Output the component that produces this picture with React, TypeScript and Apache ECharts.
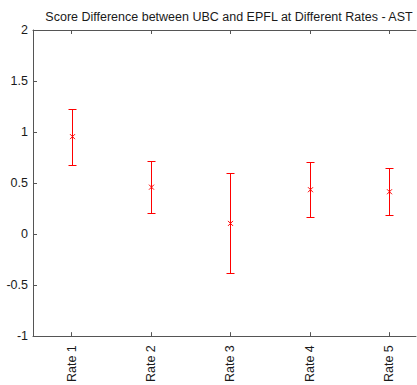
import React, { useEffect, useRef } from 'react';
import * as echarts from 'echarts';

const categories = ['Rate 1', 'Rate 2', 'Rate 3', 'Rate 4', 'Rate 5'];
const positions = [1, 2, 3, 4, 5];
const means = [0.955, 0.46, 0.105, 0.435, 0.415];
const upper = [1.225, 0.72, 0.6, 0.705, 0.65];
const lower = [0.675, 0.205, -0.385, 0.165, 0.185];

const titleText = 'Score Difference between UBC and EPFL at Different Rates - AST';
const FONT = '"Liberation Sans", Arial, Helvetica, sans-serif';
const AXIS_COLOR = '#555555';
const TEXT_COLOR = '#1a1a1a';

export default function App() {
  const ref = useRef<HTMLDivElement>(null);

  useEffect(() => {
    if (!ref.current) return;
    const chart = echarts.init(ref.current, undefined, { renderer: 'svg' });
    const data = positions.map((p, i) => [p, means[i], lower[i], upper[i]]);
    const xMin = 0.513;
    const xMax = 5.336;
    chart.setOption({
      animation: false,
      backgroundColor: '#ffffff',
      textStyle: { fontFamily: FONT },
      graphic: [
        {
          type: 'text',
          x: 229,
          y: 17,
          style: {
            text: titleText,
            fontFamily: FONT,
            fontSize: 12.5,
            fill: TEXT_COLOR,
            textAlign: 'center',
            textVerticalAlign: 'middle',
          },
        },
      ],
      grid: { left: 33, right: 1, top: 30, bottom: 48, containLabel: false },
      xAxis: [
        {
          type: 'value',
          min: xMin,
          max: xMax,
          position: 'bottom',
          axisLine: { show: true, onZero: false, lineStyle: { color: AXIS_COLOR, width: 1 } },
          axisTick: {
            show: true,
            inside: true,
            length: 4,
            customValues: positions,
            lineStyle: { color: AXIS_COLOR },
          },
          axisLabel: {
            show: true,
            customValues: positions,
            rotate: 90,
            margin: 9,
            fontSize: 12.5,
            fontFamily: FONT,
            color: TEXT_COLOR,
            formatter: (v: number) => categories[Math.round(v) - 1] ?? '',
          },
          splitLine: { show: false },
        },
        {
          type: 'value',
          min: xMin,
          max: xMax,
          position: 'top',
          axisLine: { show: true, onZero: false, lineStyle: { color: AXIS_COLOR, width: 1 } },
          axisTick: {
            show: true,
            inside: true,
            length: 4,
            customValues: positions,
            lineStyle: { color: AXIS_COLOR },
          },
          axisLabel: { show: false },
          splitLine: { show: false },
        },
      ],
      yAxis: {
        type: 'value',
        min: -1,
        max: 2,
        interval: 0.5,
        axisLine: { show: true, onZero: false, lineStyle: { color: AXIS_COLOR, width: 1 } },
        axisTick: { show: true, inside: true, length: 4, lineStyle: { color: AXIS_COLOR } },
        axisLabel: {
          margin: 5,
          fontSize: 12.5,
          fontFamily: FONT,
          color: TEXT_COLOR,
        },
        splitLine: { show: false },
      },
      series: [
        {
          type: 'custom',
          xAxisIndex: 0,
          yAxisIndex: 0,
          data,
          encode: { x: 0, y: [1, 2, 3] },
          renderItem: (params: any, api: any) => {
            const x = api.value(0);
            const c = api.coord([x, api.value(1)]);
            const lo = api.coord([x, api.value(2)]);
            const hi = api.coord([x, api.value(3)]);
            const cx = Math.round(c[0]) + 0.5;
            const cy = c[1];
            const yLo = Math.round(lo[1]) + 0.5;
            const yHi = Math.round(hi[1]) + 0.5;
            const cap = 4;
            const m = 2.5;
            const style = { stroke: '#ff0000', lineWidth: 1, fill: 'none' };
            return {
              type: 'group',
              children: [
                { type: 'line', shape: { x1: cx, y1: yHi, x2: cx, y2: yLo }, style },
                { type: 'line', shape: { x1: cx - cap, y1: yHi, x2: cx + cap, y2: yHi }, style },
                { type: 'line', shape: { x1: cx - cap, y1: yLo, x2: cx + cap, y2: yLo }, style },
                { type: 'line', shape: { x1: cx - m, y1: cy - m, x2: cx + m, y2: cy + m }, style },
                { type: 'line', shape: { x1: cx - m, y1: cy + m, x2: cx + m, y2: cy - m }, style },
              ],
            };
          },
        },
      ],
    });
    return () => chart.dispose();
  }, []);

  return (
    <div
      ref={ref}
      style={{ position: 'fixed', left: 0, top: 0, width: 417, height: 385, background: '#fff' }}
    />
  );
}
